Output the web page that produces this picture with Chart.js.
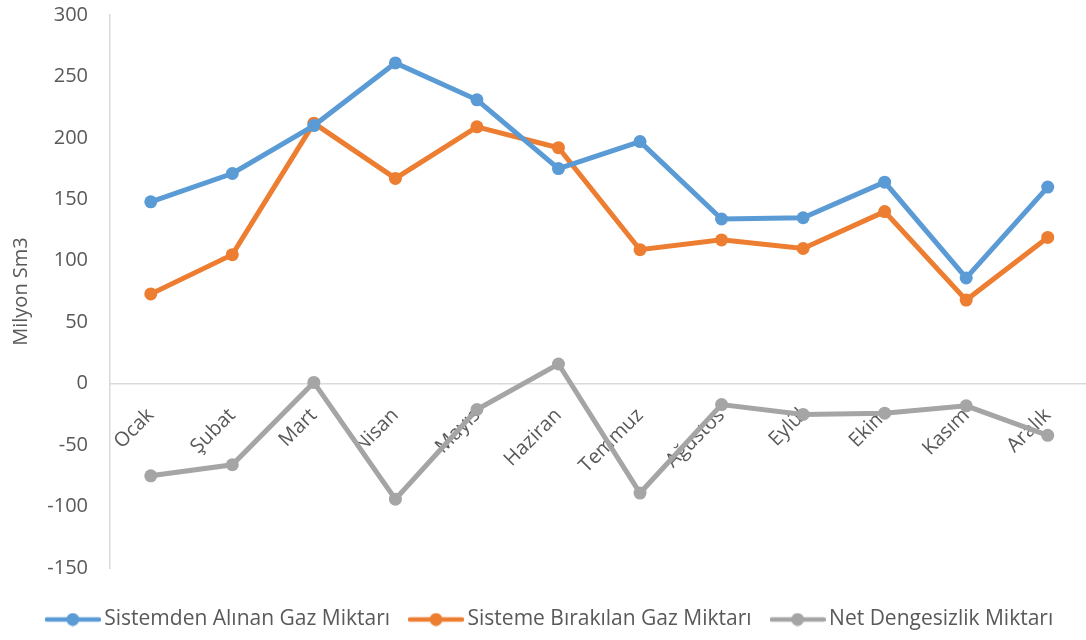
<!DOCTYPE html>
<html>
<head>
<meta charset="utf-8">
<script src="https://cdn.jsdelivr.net/npm/chart.js@4.4.1/dist/chart.umd.min.js"></script>
<style>
  html, body { margin: 0; padding: 0; background: #ffffff; overflow: hidden; }
  #wrap { width: 1095px; height: 640px; position: relative; }
</style>
</head>
<body>
<div id="wrap"><canvas id="c"></canvas></div>
<script>
const months = ['Ocak', 'Şubat', 'Mart', 'Nisan', 'Mayıs', 'Haziran', 'Temmuz', 'Ağustos', 'Eylül', 'Ekim', 'Kasım', 'Aralık'];
const alinan = [148, 171, 210, 261, 231, 175, 197, 134, 135, 164, 86, 160];
const birakilan = [73, 105, 212, 167, 209, 192, 109, 117, 110, 140, 68, 119];
const dengesizlik = [-75, -66, 1, -94, -21, 16, -89, -17, -25, -24, -18, -42];
const seriesNames = ['Sistemden Alınan Gaz Miktarı', 'Sisteme Bırakılan Gaz Miktarı', 'Net Dengesizlik Miktarı'];
const seriesColors = ['#5B9BD5', '#ED7D31', '#A5A5A5'];
const yTitle = 'Milyon Sm3';

const FONT = "'Open Sans', sans-serif";
const TEXT = '#595959';

function legendIcon(color) {
  const c = document.createElement('canvas');
  c.width = 56; c.height = 14;
  const g = c.getContext('2d');
  g.strokeStyle = color; g.lineWidth = 4.5; g.lineCap = 'round';
  g.beginPath(); g.moveTo(2, 7); g.lineTo(54, 7); g.stroke();
  g.fillStyle = color;
  g.beginPath(); g.arc(28, 7, 6.5, 0, Math.PI * 2); g.fill();
  return c;
}
const icons = seriesColors.map(legendIcon);

function ds(label, data, color) {
  return {
    label, data,
    borderColor: color, backgroundColor: color,
    borderWidth: 5, pointRadius: 6.5, pointHoverRadius: 6.5,
    pointBackgroundColor: color, pointBorderColor: color, pointBorderWidth: 0,
    tension: 0, fill: false
  };
}

const shiftLegend = {
  id: 'shiftLegend',
  afterLayout(chart) {
    if (chart.legend) { chart.legend.left += 5; chart.legend.right += 5; }
  }
};

new Chart(document.getElementById('c'), {
  type: 'line',
  data: {
    labels: months,
    datasets: [
      ds(seriesNames[0], alinan, seriesColors[0]),
      ds(seriesNames[1], birakilan, seriesColors[1]),
      ds(seriesNames[2], dengesizlik, seriesColors[2])
    ]
  },
  plugins: [shiftLegend],
  options: {
    responsive: true,
    maintainAspectRatio: false,
    animation: false,
    layout: { padding: { left: 0, right: 0, top: 15, bottom: 0 } },
    plugins: {
      tooltip: { enabled: false },
      legend: {
        position: 'bottom',
        title: { display: true, text: '', font: { size: 5 }, padding: { top: 10, bottom: 0 } },
        labels: {
          usePointStyle: true,
          pointStyleWidth: 42,
          padding: 25,
          color: TEXT,
          font: { family: FONT, size: 21 },
          generateLabels: (chart) => {
            const items = Chart.defaults.plugins.legend.labels.generateLabels(chart);
            items.forEach((it, i) => { it.pointStyle = icons[i]; });
            return items;
          }
        }
      }
    },
    scales: {
      x: {
        type: 'category',
        position: { y: 0 },
        offset: true,
        grid: { display: false, drawTicks: false },
        border: { display: true, color: '#D9D9D9', width: 1.5 },
        ticks: {
          color: TEXT,
          font: { family: FONT, size: 20 },
          minRotation: 45, maxRotation: 45,
          padding: 20,
          autoSkip: false
        }
      },
      y: {
        min: -150, max: 300,
        grid: { display: false, drawTicks: false },
        border: { display: true, color: '#D9D9D9', width: 1.5 },
        ticks: {
          stepSize: 50,
          color: TEXT,
          font: { family: FONT, size: 20 },
          padding: 22
        },
        title: {
          display: true,
          text: yTitle,
          color: TEXT,
          font: { family: FONT, size: 20 },
          padding: { top: 9, bottom: 0 }
        },
        afterFit: (scale) => { scale.width = 110; scale.paddingTop = 0; scale.paddingBottom = 0; }
      }
    }
  }
});
</script>
</body>
</html>
